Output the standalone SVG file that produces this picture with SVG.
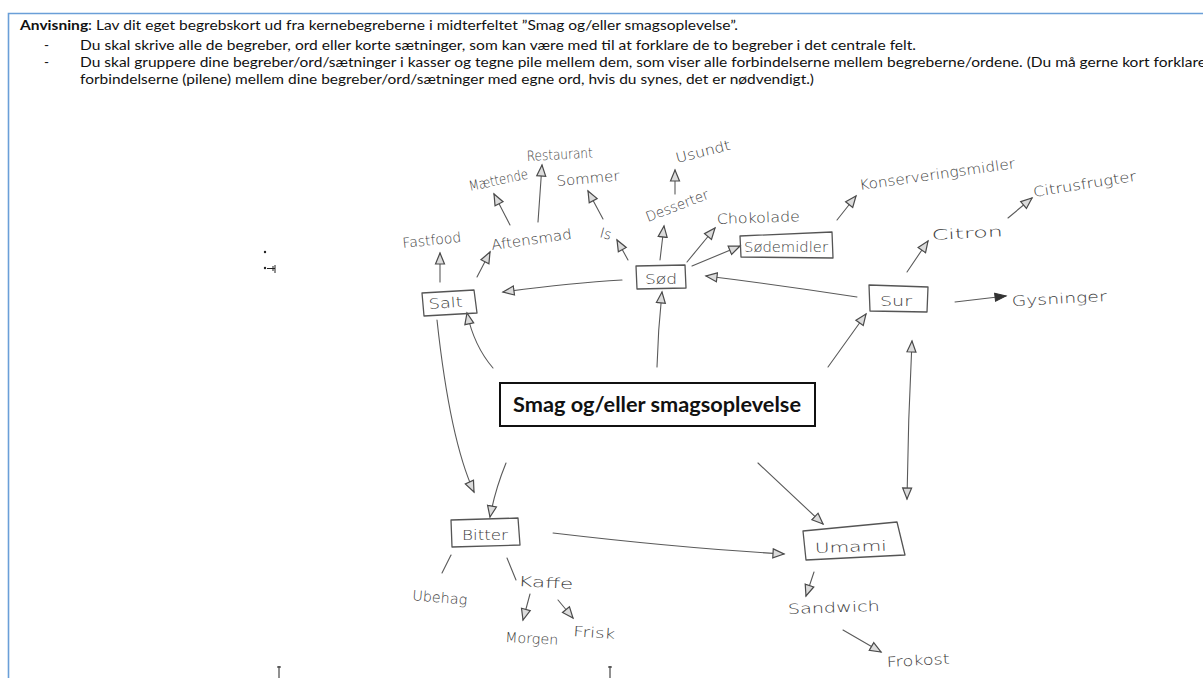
<svg xmlns="http://www.w3.org/2000/svg" width="1203" height="678" viewBox="0 0 1203 678">
  <defs>
    <style>
      .hdr { font-family: Lato, "Liberation Sans", sans-serif; font-size: 13.5px; fill: #111; }
      .hdr-b { font-weight: bold; }
      .hand { font-family: "DejaVu Sans", "Liberation Sans", sans-serif; font-weight: 200; fill: #3c3c3c; font-size: 14px; }
      .box { fill: none; stroke: #555; stroke-width: 1.3; stroke-linejoin: round; }
      .link { fill: none; stroke: #5a5a5a; stroke-width: 1.1; stroke-linecap: round; }
      .arr { marker-end: url(#open); }
      .both { marker-start: url(#openStart); marker-end: url(#open); }
      .solid { marker-end: url(#filled); }
      .core-box { fill: #fff; stroke: #111; stroke-width: 2; }
      .core-text { font-family: Lato, "Liberation Sans", sans-serif; font-weight: bold; font-size: 20px; fill: #111; }
    </style>
    <marker id="open" viewBox="-1 -6 14 12" refX="11" refY="0" markerWidth="14" markerHeight="12" markerUnits="userSpaceOnUse" orient="auto">
      <path d="M0,-4.5 L11,0 L0,4.5 Z" fill="#dcdcdc" stroke="#4a4a4a" stroke-width="1.2"/>
    </marker>
    <marker id="openStart" viewBox="-1 -6 14 12" refX="11" refY="0" markerWidth="14" markerHeight="12" markerUnits="userSpaceOnUse" orient="auto-start-reverse">
      <path d="M0,-4.5 L11,0 L0,4.5 Z" fill="#dcdcdc" stroke="#4a4a4a" stroke-width="1.2"/>
    </marker>
    <marker id="filled" viewBox="-1 -6 14 12" refX="11" refY="0" markerWidth="14" markerHeight="12" markerUnits="userSpaceOnUse" orient="auto">
      <path d="M0,-4 L11,0 L0,4 Z" fill="#333" stroke="#333" stroke-width="1"/>
    </marker>
  </defs>

  <rect width="1203" height="678" fill="#fff"/>

  <!-- page frame -->
  <path d="M8.5,678 L8.5,13.5 L1203,13.5" fill="none" stroke="#6a9fd8" stroke-width="1.6"/>

  <!-- instructions -->
  <g id="instructions">
    <text class="hdr" x="20" y="30" textLength="718" lengthAdjust="spacingAndGlyphs"><tspan class="hdr-b">Anvisning</tspan>: Lav dit eget begrebskort ud fra kernebegreberne i midterfeltet ”Smag og/eller smagsoplevelse”.</text>
    <text class="hdr" x="44" y="50">-</text>
    <text class="hdr" x="44" y="67">-</text>
    <text class="hdr" x="80" y="50" textLength="836" lengthAdjust="spacingAndGlyphs">Du skal skrive alle de begreber, ord eller korte sætninger, som kan være med til at forklare de to begreber i det centrale felt.</text>
    <text class="hdr" x="80" y="67" textLength="1126" lengthAdjust="spacingAndGlyphs">Du skal gruppere dine begreber/ord/sætninger i kasser og tegne pile mellem dem, som viser alle forbindelserne mellem begreberne/ordene. (Du må gerne kort forklare</text>
    <text class="hdr" x="80" y="84" textLength="734" lengthAdjust="spacingAndGlyphs">forbindelserne (pilene) mellem dine begreber/ord/sætninger med egne ord, hvis du synes, det er nødvendigt.)</text>
  </g>

  <!-- connectors -->
  <g id="connectors">
    <path class="link arr" d="M493,368 Q474,346 467,313"/>
    <path class="link arr" d="M437,320 Q450,440 474,492"/>
    <path class="link arr" d="M506,463 Q495,490 490,517"/>
    <path class="link arr" d="M622,280 Q570,283 503,292"/>
    <path class="link arr" d="M657,367 Q658,330 662,292"/>
    <path class="link arr" d="M857,297 Q780,285 706,276"/>
    <path class="link solid" d="M955,302 L1006,296"/>
    <path class="link arr" d="M907,272 L928,241"/>
    <path class="link arr" d="M1008,218 L1032,198"/>
    <path class="link arr" d="M828,367 L866,314"/>
    <path class="link both" d="M912,341 Q908,420 907,499"/>
    <path class="link arr" d="M758,463 L823,524"/>
    <path class="link arr" d="M553,533 Q680,548 784,554"/>
    <path class="link arr" d="M814,572 L806,596"/>
    <path class="link arr" d="M843,630 L881,652"/>
    <path class="link" d="M451,555 L442,573"/>
    <path class="link" d="M507,558 L516,580"/>
    <path class="link arr" d="M530,594 L523,620"/>
    <path class="link arr" d="M558,600 L573,618"/>
    <path class="link arr" d="M440,282 L440,253"/>
    <path class="link arr" d="M477,277 L490,252"/>
    <path class="link arr" d="M510,225 L494,194"/>
    <path class="link arr" d="M538,222 L542,165"/>
    <path class="link arr" d="M603,219 L588,191"/>
    <path class="link arr" d="M628,260 L617,240"/>
    <path class="link arr" d="M660,260 L664,226"/>
    <path class="link arr" d="M675,194 L675,170"/>
    <path class="link arr" d="M687,262 L715,228"/>
    <path class="link arr" d="M692,266 L740,246"/>
    <path class="link arr" d="M837,220 L856,196"/>
  </g>

  <!-- central concept -->
  <g id="core">
    <rect class="core-box" x="500" y="383" width="315" height="43"/>
    <text class="core-text" x="513" y="412" textLength="288" lengthAdjust="spacingAndGlyphs">Smag og/eller smagsoplevelse</text>
  </g>

  <!-- taste boxes -->
  <g id="salt">
    <polygon class="box" points="422,293 474,290 477,313 424,316"/>
    <text class="hand" x="429" y="309" font-size="15" textLength="34" lengthAdjust="spacingAndGlyphs" transform="rotate(-4 429 309)">Salt</text>
  </g>
  <g id="sod">
    <polygon class="box" points="636,266 685,265 686,288 637,289"/>
    <text class="hand" x="645" y="284" font-size="17" textLength="32" lengthAdjust="spacingAndGlyphs">Sød</text>
  </g>
  <g id="sur">
    <polygon class="box" points="869,285 928,287 927,312 870,311"/>
    <text class="hand" x="880" y="306" font-size="16" textLength="32" lengthAdjust="spacingAndGlyphs">Sur</text>
  </g>
  <g id="bitter">
    <polygon class="box" points="451,520 518,518 520,545 452,547"/>
    <text class="hand" x="462" y="540" font-size="16" textLength="46" lengthAdjust="spacingAndGlyphs">Bitter</text>
  </g>
  <g id="umami">
    <polygon class="box" points="803,531 897,522 905,555 806,560"/>
    <text class="hand" x="815" y="553" font-size="19" textLength="72" lengthAdjust="spacingAndGlyphs" transform="rotate(-2 815 553)">Umami</text>
  </g>
  <g id="sodemidler">
    <polygon class="box" points="740,236 832,232 833,258 741,257"/>
    <text class="hand" x="744" y="252" font-size="15" textLength="84" lengthAdjust="spacingAndGlyphs">Sødemidler</text>
  </g>

  <!-- words around Salt -->
  <g id="fastfood"><text class="hand" x="403" y="248" font-size="15" textLength="59" lengthAdjust="spacingAndGlyphs" transform="rotate(-6 403 248)">Fastfood</text></g>
  <g id="aftensmad"><text class="hand" x="492" y="250" font-size="16" textLength="81" lengthAdjust="spacingAndGlyphs" transform="rotate(-8 492 250)">Aftensmad</text></g>
  <g id="maettende"><text class="hand" x="470" y="191" font-size="14" textLength="60" lengthAdjust="spacingAndGlyphs" transform="rotate(-12 470 191)">Mættende</text></g>
  <g id="restaurant"><text class="hand" x="527" y="161" font-size="12" textLength="66" lengthAdjust="spacingAndGlyphs" transform="rotate(-3 527 161)">Restaurant</text></g>

  <!-- words around Sød -->
  <g id="sommer"><text class="hand" x="557" y="186" font-size="15" textLength="63" lengthAdjust="spacingAndGlyphs" transform="rotate(-5 557 186)">Sommer</text></g>
  <g id="is"><text class="hand" x="599" y="237" font-size="15" transform="rotate(15 599 237)">Is</text></g>
  <g id="desserter"><text class="hand" x="648" y="222" font-size="14" textLength="66" lengthAdjust="spacingAndGlyphs" transform="rotate(-21 648 222)">Desserter</text></g>
  <g id="usundt"><text class="hand" x="677" y="163" font-size="14" textLength="56" lengthAdjust="spacingAndGlyphs" transform="rotate(-14 677 163)">Usundt</text></g>
  <g id="chokolade"><text class="hand" x="717" y="224" font-size="16" textLength="83" lengthAdjust="spacingAndGlyphs" transform="rotate(-2 717 224)">Chokolade</text></g>
  <g id="konservering"><text class="hand" x="860" y="190" font-size="14" textLength="157" lengthAdjust="spacingAndGlyphs" transform="rotate(-8 860 190)">Konserveringsmidler</text></g>

  <!-- words around Sur -->
  <g id="citron"><text class="hand" x="932" y="240" font-size="22" textLength="71" lengthAdjust="spacingAndGlyphs" transform="rotate(-3 932 240)">Citron</text></g>
  <g id="citrusfrugter"><text class="hand" x="1034" y="197" font-size="15" textLength="104" lengthAdjust="spacingAndGlyphs" transform="rotate(-9 1034 197)">Citrusfrugter</text></g>
  <g id="gysninger"><text class="hand" x="1012" y="306" font-size="21" textLength="95" lengthAdjust="spacingAndGlyphs" transform="rotate(-3 1012 306)">Gysninger</text></g>

  <!-- words around Bitter -->
  <g id="ubehag"><text class="hand" x="412" y="600" font-size="16" textLength="55" lengthAdjust="spacingAndGlyphs" transform="rotate(5 412 600)">Ubehag</text></g>
  <g id="kaffe"><text class="hand" x="518" y="586" font-size="16" textLength="55" lengthAdjust="spacingAndGlyphs" transform="rotate(3 518 586)">Kaffe</text></g>
  <g id="morgen"><text class="hand" x="505" y="642" font-size="14" textLength="53" lengthAdjust="spacingAndGlyphs" transform="rotate(3 505 642)">Morgen</text></g>
  <g id="frisk"><text class="hand" x="573" y="636" font-size="15" textLength="42" lengthAdjust="spacingAndGlyphs" transform="rotate(4 573 636)">Frisk</text></g>

  <!-- words around Umami -->
  <g id="sandwich"><text class="hand" x="788" y="614" font-size="17" textLength="92" lengthAdjust="spacingAndGlyphs" transform="rotate(-2 788 614)">Sandwich</text></g>
  <g id="frokost"><text class="hand" x="887" y="667" font-size="16" textLength="63" lengthAdjust="spacingAndGlyphs" transform="rotate(-3 887 667)">Frokost</text></g>

  <!-- small pencil specks on the sheet -->
  <g fill="#222" stroke="#222" stroke-width="1">
    <circle cx="265" cy="252" r="1.2" stroke="none"/>
    <circle cx="265" cy="268" r="1.2" stroke="none"/>
    <path d="M267,268.5 L275,268.5" fill="none"/>
    <path d="M275,265 L275,273 M273,266 L273,271" fill="none"/>
    <path d="M279,666 L279,678 M277,667 L281,667" fill="none"/>
    <path d="M610,666 L610,678 M608,667 L612,667" fill="none"/>
  </g>
</svg>
